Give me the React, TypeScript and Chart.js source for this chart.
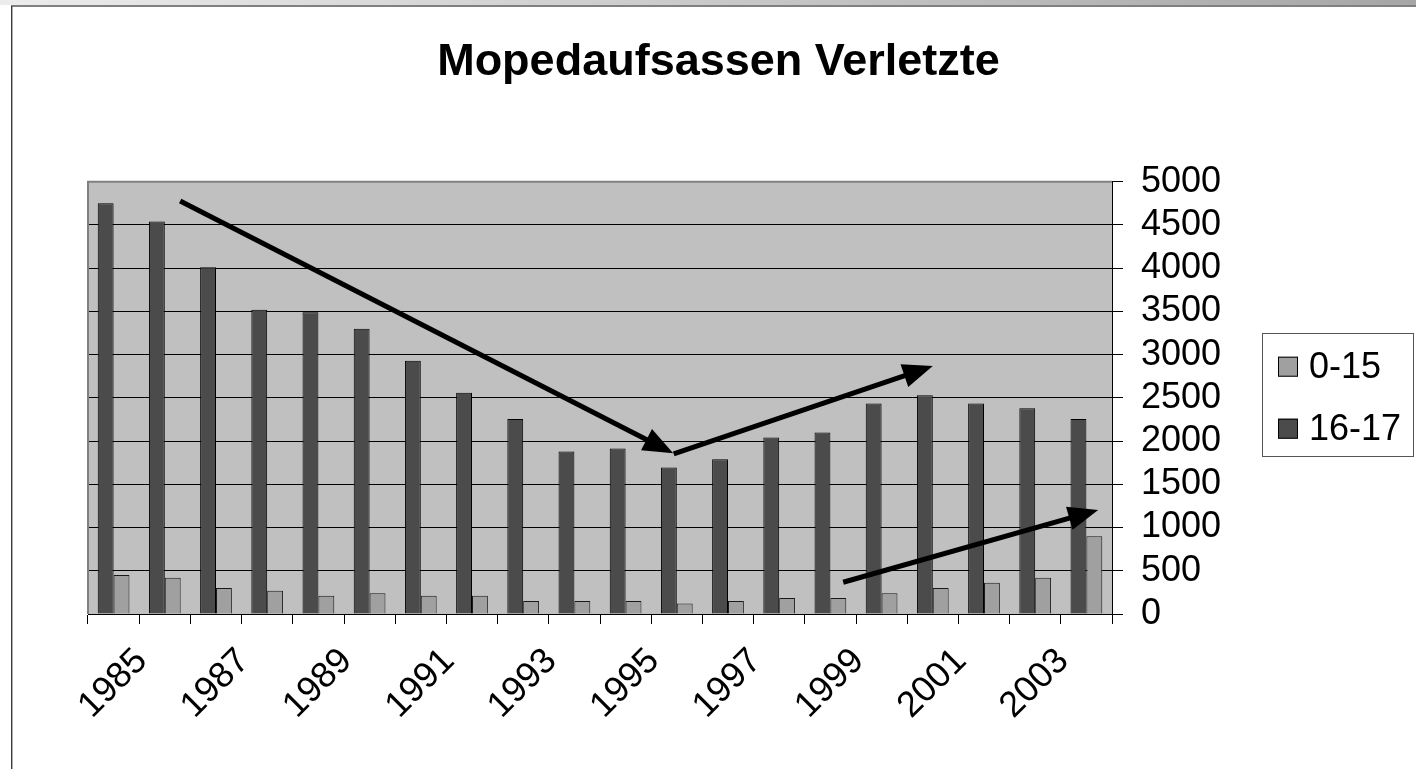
import React, { useEffect, useRef } from "react";
import { Chart, registerables } from "chart.js";

Chart.register(...registerables);

// ---- data ----
const years = [
  "1985", "1986", "1987", "1988", "1989", "1990", "1991", "1992", "1993", "1994",
  "1995", "1996", "1997", "1998", "1999", "2000", "2001", "2002", "2003", "2004",
];
const injured0to15 = [450, 420, 300, 270, 210, 240, 210, 210, 150, 150, 150, 120, 150, 185, 185, 240, 300, 360, 420, 900];
const injured16to17 = [4750, 4540, 4010, 3520, 3490, 3300, 2930, 2560, 2255, 1880, 1915, 1695, 1790, 2040, 2100, 2435, 2530, 2435, 2380, 2255];
const yTickValues = [0, 500, 1000, 1500, 2000, 2500, 3000, 3500, 4000, 4500, 5000];
const seriesLabels = ["0-15", "16-17"];
const chartTitle = "Mopedaufsassen Verletzte";

// trend arrows in data space: category index (fractional) and value
const arrowStartIndex = [1.3, 10.94, 14.25];
const arrowStartValue = [4777, 1851, 367];
const arrowEndIndex = [10.93, 16.0, 19.23];
const arrowEndValue = [1859, 2868, 1203];

const FONT = "'Liberation Sans', Arial, Helvetica, sans-serif";
const DARK = "#4b4b4b";
const LIGHT = "#a0a0a0";

const framePlugin = {
  id: "frame",
  beforeDraw(chart: any) {
    const { ctx, width, height, chartArea } = chart;
    ctx.save();
    ctx.fillStyle = "#ffffff";
    ctx.fillRect(0, 0, width, height);
    const g = ctx.createLinearGradient(0, 0, width, 0);
    g.addColorStop(0, "#ececec");
    g.addColorStop(1, "#a6a6a6");
    ctx.fillStyle = g;
    ctx.fillRect(0, 0, width, 5);
    ctx.fillStyle = "#808080";
    ctx.fillRect(11, 5, width - 11, 2);
    ctx.fillStyle = "#3a3a3a";
    ctx.fillRect(11, 6, 1.4, height - 6);
    ctx.fillStyle = "#c0c0c0";
    ctx.fillRect(chartArea.left, chartArea.top, chartArea.right - chartArea.left, chartArea.bottom - chartArea.top);
    ctx.restore();
  },
  beforeDatasetsDraw(chart: any) {
    const { ctx, chartArea } = chart;
    ctx.save();
    ctx.strokeStyle = "#808080";
    ctx.lineWidth = 2;
    ctx.beginPath();
    ctx.moveTo(chartArea.left, chartArea.bottom);
    ctx.lineTo(chartArea.left, chartArea.top);
    ctx.lineTo(chartArea.right, chartArea.top);
    ctx.stroke();
    ctx.restore();
  },
};

const arrowsPlugin = {
  id: "trendArrows",
  afterDatasetsDraw(chart: any) {
    const { ctx } = chart;
    const xs = chart.scales.x;
    const ys = chart.scales.y;
    ctx.save();
    for (let i = 0; i < arrowStartIndex.length; i++) {
      const x1 = xs.getPixelForValue(arrowStartIndex[i]);
      const y1 = ys.getPixelForValue(arrowStartValue[i]);
      const x2 = xs.getPixelForValue(arrowEndIndex[i]);
      const y2 = ys.getPixelForValue(arrowEndValue[i]);
      const len = Math.hypot(x2 - x1, y2 - y1);
      const dx = (x2 - x1) / len;
      const dy = (y2 - y1) / len;
      const headLen = 30;
      const headHalf = 12;
      const bx = x2 - dx * headLen;
      const by = y2 - dy * headLen;
      ctx.strokeStyle = "#000";
      ctx.lineWidth = 5;
      ctx.lineCap = "butt";
      ctx.beginPath();
      ctx.moveTo(x1, y1);
      ctx.lineTo(bx + dx * 2, by + dy * 2);
      ctx.stroke();
      ctx.fillStyle = "#000";
      ctx.beginPath();
      ctx.moveTo(x2, y2);
      ctx.lineTo(bx - dy * headHalf, by + dx * headHalf);
      ctx.lineTo(bx + dy * headHalf, by - dx * headHalf);
      ctx.closePath();
      ctx.fill();
    }
    ctx.restore();
  },
};

const legendPlugin = {
  id: "boxLegend",
  afterDraw(chart: any) {
    const { ctx, chartArea, width } = chart;
    const boxLeft = width - 154;
    const boxW = 151;
    const boxH = 123;
    const boxTop = (chartArea.top + chartArea.bottom) / 2 - 64.85;
    ctx.save();
    ctx.fillStyle = "#ffffff";
    ctx.fillRect(boxLeft, boxTop, boxW, boxH);
    ctx.strokeStyle = "#555";
    ctx.lineWidth = 1;
    ctx.strokeRect(boxLeft + 0.5, boxTop + 0.5, boxW, boxH);
    const ds = chart.data.datasets;
    const order = [1, 0];
    ctx.font = `36px ${FONT}`;
    ctx.textBaseline = "middle";
    ctx.textAlign = "left";
    order.forEach((di: number, row: number) => {
      const d = ds[di];
      const cy = boxTop + 33.7 + row * 62;
      ctx.fillStyle = d.backgroundColor;
      ctx.fillRect(boxLeft + 16, cy - 10, 20, 20);
      ctx.strokeStyle = "#000";
      ctx.strokeRect(boxLeft + 16.5, cy - 9.5, 19, 19);
      ctx.fillStyle = "#000";
      ctx.fillText(d.label, boxLeft + 47, cy + 1.8);
    });
    ctx.restore();
  },
};

export default function App() {
  const ref = useRef<HTMLCanvasElement | null>(null);
  useEffect(() => {
    if (!ref.current) return;
    const chart = new Chart(ref.current, {
      type: "bar",
      data: {
        labels: years,
        datasets: [
          {
            label: seriesLabels[1],
            data: injured16to17,
            backgroundColor: DARK,
            borderColor: "#000",
            borderWidth: 1,
            categoryPercentage: 0.62,
            barPercentage: 1,
            yAxisID: "y",
          },
          {
            label: seriesLabels[0],
            data: injured0to15,
            backgroundColor: LIGHT,
            borderColor: "#1a1a1a",
            borderWidth: 1,
            categoryPercentage: 0.62,
            barPercentage: 1,
            yAxisID: "y",
          },
        ],
      },
      options: {
        responsive: false,
        animation: false,
        devicePixelRatio: 1,
        layout: { padding: { left: 21, right: 0, top: 9, bottom: 0 } },
        plugins: {
          legend: { display: false },
          tooltip: { enabled: false },
          title: {
            display: true,
            text: chartTitle,
            color: "#000",
            font: { family: FONT, size: 45, weight: "bold", lineHeight: 1.2 },
            padding: { top: 27, bottom: 91.7 },
          },
        },
        scales: {
          y: {
            type: "linear",
            position: "right",
            min: 0,
            max: 5000,
            afterBuildTicks: (s: any) => {
              s.ticks = yTickValues.map((v) => ({ value: v }));
            },
            ticks: {
              autoSkip: false,
              padding: 18,
              color: "#000",
              font: { family: FONT, size: 36, lineHeight: 1 },
              callback: (v: any) => String(v),
            },
            grid: {
              color: (c: any) => (c.tick && c.tick.value === 5000 ? "#808080" : "#000"),
              tickColor: "#000",
              lineWidth: 1,
              tickLength: 11,
            },
            border: { color: "#000", width: 1 },
            afterFit: (s: any) => {
              s.width = 304;
            },
          },
          x: {
            type: "category",
            offset: true,
            grid: {
              offset: true,
              drawOnChartArea: false,
              drawTicks: true,
              tickLength: 10,
              color: "#000",
            },
            border: { color: "#000", width: 1 },
            ticks: {
              autoSkip: false,
              maxRotation: 45,
              minRotation: 45,
              padding: 16,
              labelOffset: 28,
              color: "#000",
              font: { family: FONT, size: 36 },
              callback: (_v: any, i: number) => (i % 2 === 0 ? years[i] : ""),
            },
            afterFit: (s: any) => {
              s.height = 155;
            },
          },
          yPad: {
            type: "linear",
            position: "left",
            display: true,
            grid: { display: false },
            border: { display: false },
            ticks: { display: false },
            afterFit: (s: any) => {
              s.width = 67;
            },
          },
        },
      } as any,
      plugins: [framePlugin, arrowsPlugin, legendPlugin],
    });
    return () => chart.destroy();
  }, []);
  return (
    <div style={{ position: "fixed", left: 0, top: 0, width: 1416, height: 769, background: "#fff" }}>
      <canvas ref={ref} width={1416} height={769} style={{ display: "block", width: 1416, height: 769 }} />
    </div>
  );
}
